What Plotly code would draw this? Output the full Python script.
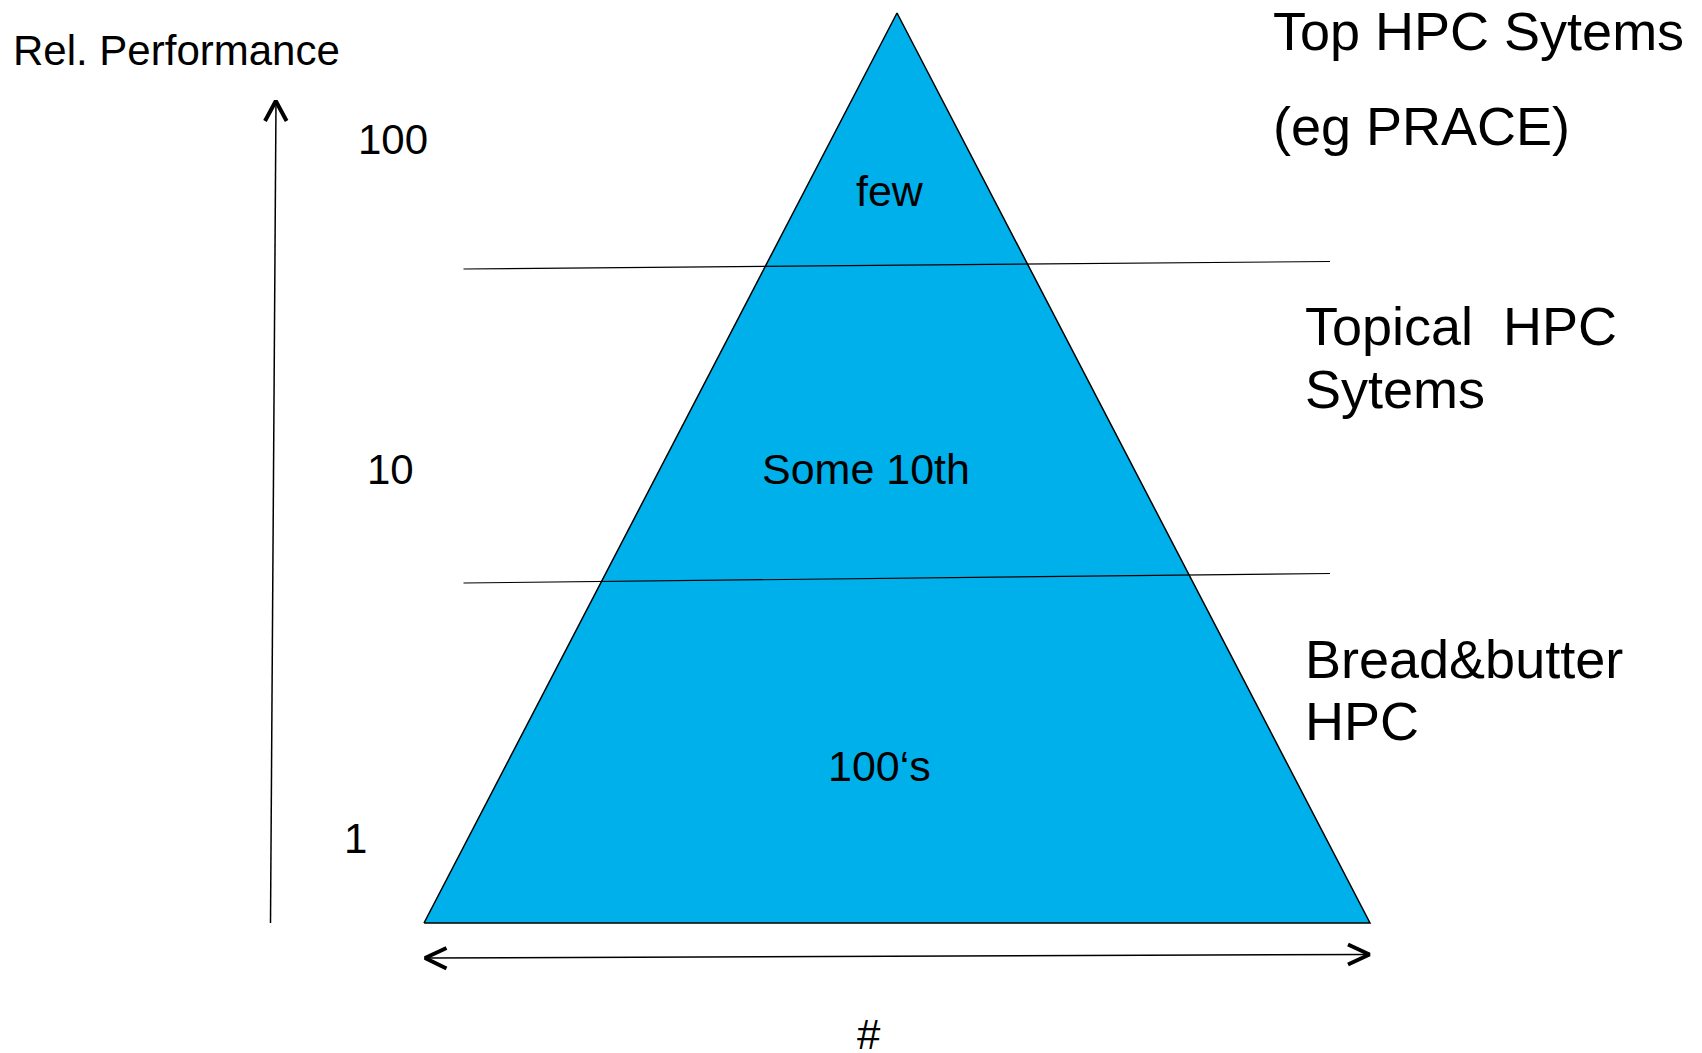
import plotly.graph_objects as go

# Tier contents (top to bottom) and their descriptions
tier_counts = ["few", "Some 10th", "100‘s"]
tier_names = [["Top HPC Sytems", "(eg PRACE)"],
              ["Topical\u00a0 HPC", "Sytems"],
              ["Bread&butter", "HPC"]]
perf_levels = ["100", "10", "1"]
axis_titles = ["Rel. Performance", "#"]

W, H = 1702, 1053
FONT = "Liberation Sans, Arial, sans-serif"
BLUE = "#00B0EB"

fig = go.Figure()

# pyramid
apex = (897, 13)
base_l = (424, 923)
base_r = (1370, 923)
fig.add_trace(go.Scatter(
    x=[base_l[0], apex[0], base_r[0], base_l[0]],
    y=[base_l[1], apex[1], base_r[1], base_l[1]],
    mode="lines", fill="toself", fillcolor=BLUE,
    line=dict(color="black", width=1.5), hoverinfo="skip"))

# tier separators
for y0, y1 in [(269, 261.5), (583, 573.5)]:
    fig.add_trace(go.Scatter(x=[463.5, 1330], y=[y0, y1], mode="lines",
                             line=dict(color="black", width=1.2), hoverinfo="skip"))

# vertical performance arrow
fig.add_trace(go.Scatter(x=[270.5, 276], y=[923, 102], mode="lines",
                         line=dict(color="black", width=1.5), hoverinfo="skip"))
fig.add_trace(go.Scatter(x=[265, 275.8, 286.6], y=[121, 101, 121], mode="lines",
                         line=dict(color="black", width=4), hoverinfo="skip"))

# horizontal count arrow
fig.add_trace(go.Scatter(x=[426, 1368], y=[958, 954.5], mode="lines",
                         line=dict(color="black", width=1.5), hoverinfo="skip"))
fig.add_trace(go.Scatter(x=[446.5, 425, 446.5], y=[948, 958, 968.5], mode="lines",
                         line=dict(color="black", width=4), hoverinfo="skip"))
fig.add_trace(go.Scatter(x=[1348, 1369.5, 1348], y=[944.5, 954.5, 964.5], mode="lines",
                         line=dict(color="black", width=4), hoverinfo="skip"))


def label(text, x, y, size, xanchor="center", height=None):
    fig.add_annotation(x=x, y=y, text=text, showarrow=False, xanchor=xanchor,
                       yanchor="middle", height=height, valign="middle",
                       font=dict(family=FONT, size=size, color="black"))


label(axis_titles[0], 11, 50, 42, "left")
label(axis_titles[1], 869, 1034, 42, height=36)

for txt, (x, y) in zip(perf_levels, [(393, 139), (390, 469), (355, 838)]):
    label(txt, x, y, 42)

for txt, (x, y) in zip(tier_counts, [(890, 191), (866, 469), (879, 766)]):
    label(txt, x, y, 43)

name_pos = [(1271, [31, 126]), (1303, [326, 389]), (1303, [659, 721])]
for lines, (x, ys) in zip(tier_names, name_pos):
    for txt, y in zip(lines, ys):
        label(txt, x, y, 54, "left")

fig.update_layout(
    width=W, height=H, margin=dict(l=0, r=0, t=0, b=0),
    paper_bgcolor="white", plot_bgcolor="white", showlegend=False,
    xaxis=dict(range=[0, W], visible=False, fixedrange=True),
    yaxis=dict(range=[H, 0], visible=False, fixedrange=True),
)

fig.write_html("out.html", config={"displayModeBar": False})
